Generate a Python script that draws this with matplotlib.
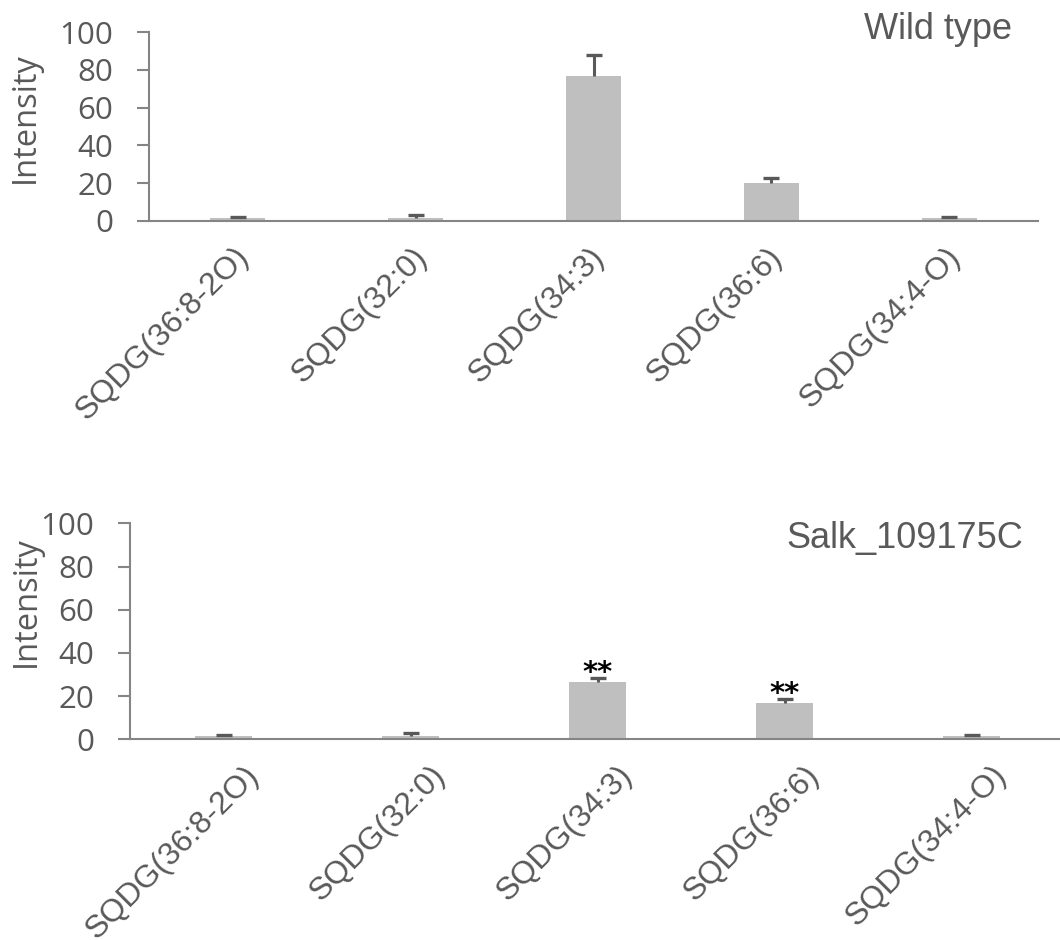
import matplotlib
matplotlib.use("Agg")
import matplotlib.pyplot as plt
import matplotlib.transforms as mtrans
import numpy as np

categories = ["SQDG(36:8-2O)", "SQDG(32:0)", "SQDG(34:3)", "SQDG(36:6)", "SQDG(34:4-O)"]
wt_values = [1.8, 1.8, 76.5, 20.3, 1.8]
wt_err = [0.3, 1.3, 11.2, 2.3, 0.3]
mut_values = [1.7, 1.7, 26.4, 16.7, 1.7]
mut_err = [0.3, 1.1, 2.1, 2.0, 0.3]
mut_sig = ["", "", "**", "**", ""]
yticks = [0, 20, 40, 60, 80, 100]
titles = ["Wild type", "Salk_109175C"]

W, H = 1060, 940
fig = plt.figure(figsize=(W / 100, H / 100), dpi=100)

AX_COL = "#858585"
TXT_COL = "#595959"
BAR_COL = "#bfbfbf"
ERR_COL = "#595959"


def px_rect(left, right, top, bottom):
    return [left / W, 1 - bottom / H, (right - left) / W, (bottom - top) / H]


def setup(ax, values, errs, title, title_xy, label_dx, ylab_xy, sig=None):
    x = np.arange(len(categories))
    vals = np.array(values, dtype=float)
    tops = vals + np.array(errs, dtype=float)
    ax.bar(x, vals, width=0.31, color=BAR_COL, edgecolor="none", zorder=2)
    # upper-only error bars (stem + cap at top)
    ax.vlines(x, vals, tops, colors=ERR_COL, linewidth=2.2, zorder=3)
    ax.plot(x, tops, linestyle="none", marker="_", markersize=11,
            markeredgewidth=2.4, color=ERR_COL, zorder=3)
    ax.set_xlim(-0.5, len(categories) - 0.5)
    ax.set_ylim(0, 100)
    ax.set_yticks(yticks)
    ax.set_yticklabels([str(t) for t in yticks], fontsize=22.5, color=TXT_COL,
                       family="Open Sans")
    ax.tick_params(axis="y", direction="out", length=9, width=1.5, color=AX_COL, pad=17)
    ax.tick_params(axis="x", length=0, pad=15)
    ax.set_xticks(x)
    ax.set_xticklabels(categories, rotation=45, ha="right", va="top",
                       rotation_mode="anchor", fontsize=23, color=TXT_COL,
                       family="Liberation Sans")
    off = mtrans.ScaledTranslation(label_dx / 100, 0, fig.dpi_scale_trans)
    for lab in ax.get_xticklabels():
        lab.set_transform(lab.get_transform() + off)
    for s in ["top", "right"]:
        ax.spines[s].set_visible(False)
    for s in ["left", "bottom"]:
        ax.spines[s].set_color(AX_COL)
        ax.spines[s].set_linewidth(1.5)
    ax.set_ylabel("Intensity", fontsize=23.5, color=TXT_COL, family="Open Sans", va="center")
    ax.yaxis.set_label_coords(*ylab_xy)
    fig.text(title_xy[0] / W, 1 - title_xy[1] / H, title, ha="right", va="baseline",
             fontsize=26, color=TXT_COL, family="Liberation Sans")
    if sig is not None:
        for i, s in enumerate(sig):
            if s:
                ax.annotate(s, xy=(i, tops[i]), xytext=(0, -2),
                            textcoords="offset points", ha="center", va="baseline",
                            fontsize=21, fontweight="bold", color="black",
                            family="DejaVu Sans")


ax1 = fig.add_axes(px_rect(149, 1038, 32, 221))
setup(ax1, wt_values, wt_err, titles[0], (1012, 39.3), -4, (-0.139, 0.548))

ax2 = fig.add_axes(px_rect(130, 1065, 523.3, 739.3))
setup(ax2, mut_values, mut_err, titles[1], (1023, 548.3), 20, (-0.111, 0.637), sig=mut_sig)

fig.savefig("out.png", dpi=100, facecolor="white")
